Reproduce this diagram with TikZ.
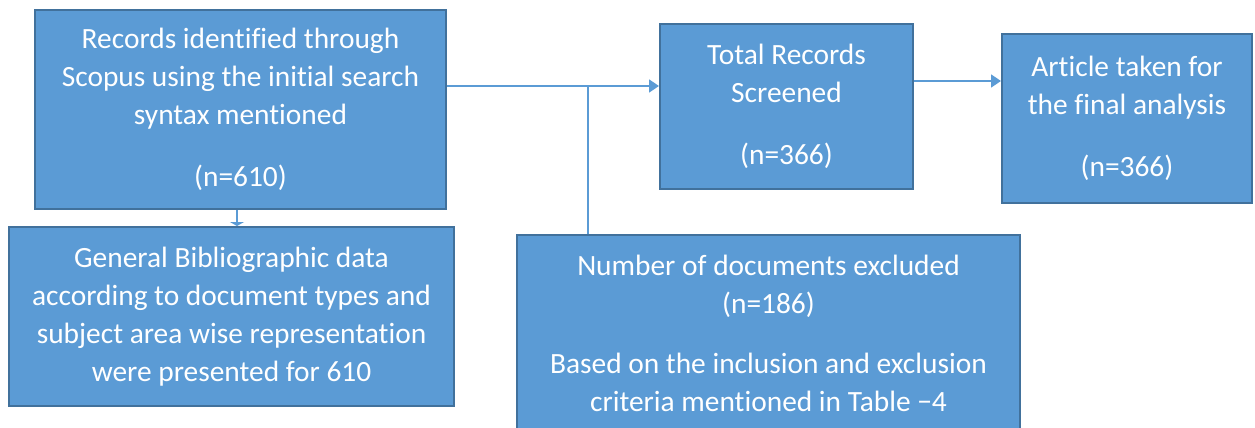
\documentclass[tikz,border=0pt]{standalone}
\usepackage{fontspec}
\setmainfont[Ligatures=NoCommon]{Carlito}
\usetikzlibrary{arrows.meta}
\definecolor{boxfill}{HTML}{5B9BD5}
\definecolor{boxline}{HTML}{41719C}
\begin{document}
\begin{tikzpicture}[x=1pt,y=-1pt,
  box/.style={draw=boxline, fill=boxfill, line width=2pt, text=white,
    align=center, inner sep=0pt, font=\fontsize{29.4}{38}\selectfont},
  conn/.style={draw=boxfill, line width=1.5pt},
  arr/.style={conn, -{Triangle[length=10pt,width=13pt]}}]
\useasboundingbox (0,0) rectangle (1255,428);
\clip (0,0) rectangle (1255,428);
\node[box, minimum width=411pt, minimum height=199pt] (A) at (240.5,109.5)
  {Records identified through\\Scopus using the initial search\\syntax mentioned\\[24pt](n=610)};
\node[box, minimum width=445pt, minimum height=179pt] (B) at (231.5,316.5)
  {General Bibliographic data\\according to document types and\\subject area wise representation\\were presented for 610};
\node[box, minimum width=253pt, minimum height=165pt] (C) at (786.5,106.5)
  {Total Records\\Screened\\[24pt](n=366)};
\node[box, minimum width=250pt, minimum height=169pt] (D) at (1127,118.5)
  {Article taken for\\the final analysis\\[24pt](n=366)};
\node[box, minimum width=503pt, minimum height=196pt] (E) at (768.5,333)
  {Number of documents excluded\\(n=186)\\[22pt]Based on the inclusion and exclusion\\criteria mentioned in Table −4};
\coordinate (j) at (588,86);
\coordinate (k) at (237,0);
\draw[conn] (A.east |- j) -- (j);
\draw[arr] (j) -- (C.west |- j);
\draw[conn] (E.north -| j) -- (j);
\draw[arr, -{Triangle[length=4pt,width=14pt]}] (A.south -| k) -- (B.north -| k);
\draw[arr] (C.east |- 0,81) -- (D.west |- 0,81);
\end{tikzpicture}
\end{document}
